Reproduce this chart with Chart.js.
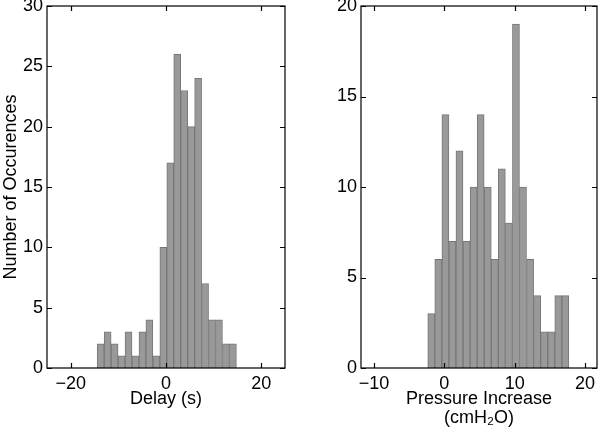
<!DOCTYPE html>
<html>
<head>
<meta charset="utf-8">
<script src="https://cdn.jsdelivr.net/npm/chart.js@4.4.1/dist/chart.umd.min.js"></script>
<style>
  html, body { margin: 0; padding: 0; background: #fff; }
  #wrap { position: relative; width: 600px; height: 434px; }
  canvas { position: absolute; top: 0; }
  #delay-chart { left: 0; }
  #pressure-chart { left: 300px; }
</style>
</head>
<body>
<div id="wrap">
  <canvas id="delay-chart" width="300" height="434"></canvas>
  <canvas id="pressure-chart" width="300" height="434"></canvas>
</div>
<script>
// Delay histogram (bin centres in s, counts)
const delayBins = [-13.72, -12.26, -10.80, -9.33, -7.87, -6.41, -4.95, -3.49, -2.02, -0.56,
                   0.90, 2.36, 3.82, 5.29, 6.75, 8.21, 9.67, 11.13, 12.60, 14.06];
const delayCounts = [2, 3, 2, 1, 3, 1, 3, 4, 1, 10, 17, 26, 23, 20, 24, 7, 4, 4, 2, 2];
const delayXTicks = [-20, 0, 20];
const delayYTicks = [0, 5, 10, 15, 20, 25, 30];

// Pressure increase histogram (bin centres in cmH2O, counts)
const pressureBins = [-1.86, -0.86, 0.15, 1.15, 2.15, 3.16, 4.16, 5.16, 6.17, 7.17,
                      8.17, 9.18, 10.18, 11.18, 12.19, 13.19, 14.19, 15.20, 16.20, 17.20];
const pressureCounts = [3, 6, 14, 7, 12, 7, 10, 14, 10, 6, 11, 8, 19, 10, 6, 4, 2, 2, 4, 4];
const pressureXTicks = [-10, 0, 10, 20];
const pressureYTicks = [0, 5, 10, 15, 20];

const FAMILY = "'Liberation Sans', Arial, Helvetica, sans-serif";
const FONT = { family: FAMILY, size: 18, lineHeight: 1.2 };
const TITLE2 = { family: FAMILY, size: 18, lineHeight: 1.06 };

// box around the plot with inward ticks on all four sides
const boxPlugin = {
  id: "box",
  afterDraw(chart) {
    const ctx = chart.ctx;
    const a = chart.chartArea;
    const xs = chart.scales.x;
    const ys = chart.scales.y;
    const len = 5;
    ctx.save();
    ctx.strokeStyle = "#000";
    ctx.lineWidth = 1.2;
    ctx.strokeRect(a.left, a.top, a.right - a.left, a.bottom - a.top);
    ctx.beginPath();
    xs.ticks.forEach(t => {
      const px = Math.round(xs.getPixelForValue(t.value)) + 0.5;
      ctx.moveTo(px, a.bottom); ctx.lineTo(px, a.bottom - len);
      ctx.moveTo(px, a.top); ctx.lineTo(px, a.top + len);
    });
    ys.ticks.forEach(t => {
      const py = Math.round(ys.getPixelForValue(t.value)) + 0.5;
      ctx.moveTo(a.left, py); ctx.lineTo(a.left + len, py);
      ctx.moveTo(a.right, py); ctx.lineTo(a.right - len, py);
    });
    ctx.stroke();
    ctx.restore();
  }
};

function minus(v) {
  return String(v).replace("-", "\u2212");
}

function makeHist(canvasId, bins, counts, xMin, xMax, xTicks, yMax, yTicks, yWidth, padRight, xTitle, xTitleFont, xTitlePad, yTitle) {
  const ctx = document.getElementById(canvasId).getContext("2d");
  return new Chart(ctx, {
    type: "bar",
    data: {
      datasets: [{
        data: bins.map((b, i) => ({ x: b, y: counts[i] })),
        backgroundColor: "#999999",
        borderColor: "#777777",
        borderWidth: 1,
        barPercentage: 1,
        categoryPercentage: 1
      }]
    },
    plugins: [boxPlugin],
    options: {
      responsive: false,
      animation: false,
      devicePixelRatio: 1,
      layout: { padding: { top: 6, right: padRight, bottom: 0, left: 0 } },
      plugins: { legend: { display: false }, tooltip: { enabled: false } },
      scales: {
        x: {
          type: "linear",
          min: xMin,
          max: xMax,
          offset: false,
          grid: { display: false, drawTicks: false },
          border: { display: false },
          afterBuildTicks: s => { s.ticks = xTicks.map(v => ({ value: v })); },
          afterFit: s => { s.height = 66; s.paddingLeft = 0; s.paddingRight = 0; },
          ticks: { color: "#000", font: FONT, padding: 5, maxRotation: 0, callback: v => minus(v) },
          title: { display: true, text: xTitle, color: "#000", font: xTitleFont, padding: { top: 0, bottom: xTitlePad } }
        },
        y: {
          min: 0,
          max: yMax,
          grid: { display: false, drawTicks: false },
          border: { display: false },
          afterBuildTicks: s => { s.ticks = yTicks.map(v => ({ value: v })); },
          afterFit: s => { s.width = yWidth; s.paddingTop = 0; s.paddingBottom = 0; },
          ticks: { color: "#000", font: FONT, padding: 4 },
          title: { display: !!yTitle, text: yTitle, color: "#000", font: FONT, padding: { top: 0, bottom: 0 } }
        }
      }
    }
  });
}

makeHist("delay-chart", delayBins, delayCounts, -25, 25, delayXTicks, 30, delayYTicks,
  47, 15, "Delay (s)", FONT, 24, "Number of Occurences");
makeHist("pressure-chart", pressureBins, pressureCounts, -11.85, 21.7, pressureXTicks, 20, pressureYTicks,
  61, 3, ["Pressure Increase", "(cmH\u2082O)"], TITLE2, 6, "");
</script>
</body>
</html>
